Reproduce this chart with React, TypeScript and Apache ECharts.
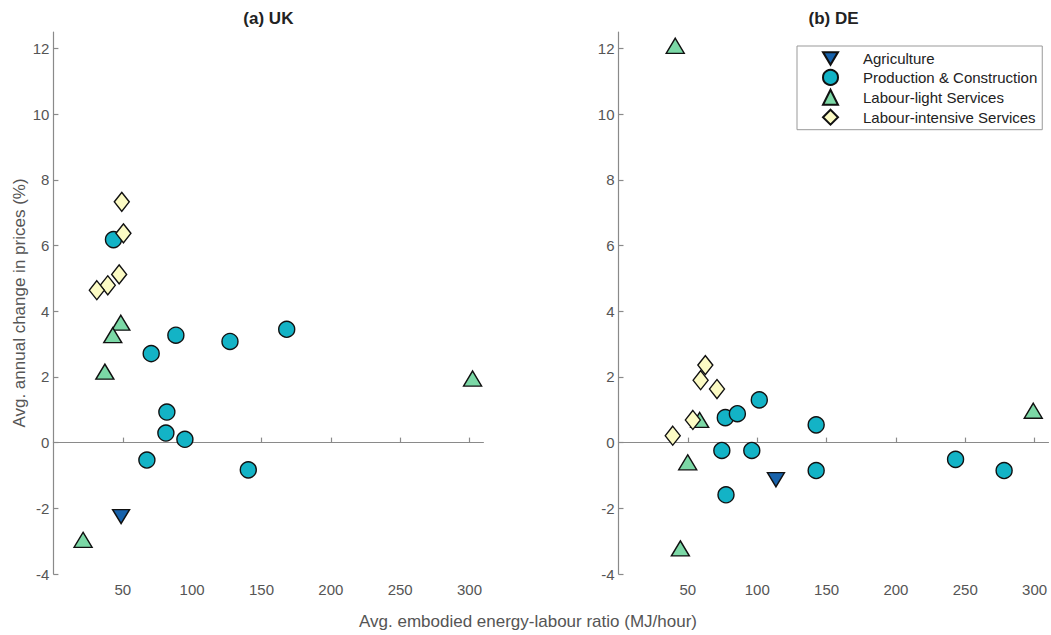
import React, { useEffect, useRef } from "react";
import * as echarts from "echarts";

// ---- Data: [embodied energy-labour ratio (MJ/hour), avg. annual change in prices (%)] ----
const seriesNames = [
  "Agriculture",
  "Production & Construction",
  "Labour-light Services",
  "Labour-intensive Services",
];

const ukAgriculture = [[48.8, -2.25]];
const ukProduction = [
  [43.3, 6.18], [70.5, 2.71], [88.3, 3.27], [127.3, 3.08], [168.2, 3.45],
  [81.8, 0.93], [81.1, 0.29], [94.8, 0.1], [67.4, -0.53], [140.5, -0.83],
];
const ukLabourLight = [[48.6, 3.65], [42.8, 3.27], [37.1, 2.16], [302.2, 1.95], [21.4, -2.96]];
const ukLabourIntensive = [[49.3, 7.33], [50.5, 6.37], [47.4, 5.12], [39.2, 4.79], [31.3, 4.64]];

const deAgriculture = [[113.5, -1.13]];
const deProduction = [
  [77.0, 0.76], [85.7, 0.88], [101.5, 1.3], [142.5, 0.54], [74.5, -0.24],
  [96.1, -0.24], [77.5, -1.59], [142.5, -0.85], [243.0, -0.51], [278.0, -0.85],
];
const deLabourLight = [[40.9, 12.08], [58.5, 0.69], [49.9, -0.6], [44.6, -3.22], [299.0, 0.97]];
const deLabourIntensive = [[62.6, 2.36], [59.2, 1.9], [71.0, 1.63], [53.6, 0.69], [39.1, 0.21]];

const xTicks = [50, 100, 150, 200, 250, 300];
const yTicks = [-4, -2, 0, 2, 4, 6, 8, 10, 12];
const panelTitles = ["(a) UK", "(b) DE"];

const FONT = "'Liberation Sans', Arial, Helvetica, sans-serif";
const AXIS_COLOR = "#8a8a8a";
const LABEL_COLOR = "#555555";

const colors = ["#1762ab", "#13b3c6", "#7bd8a6", "#fcfbc4"];
const symbols = ["path://M0,0L20,0L10,17Z", "circle", "triangle", "diamond"];
const symbolSizes: any[] = [[17, 14], 16, [18, 15], [15, 19]];

export default function App() {
  const ref = useRef<HTMLDivElement>(null);

  useEffect(() => {
    if (!ref.current) return;
    const chart = echarts.init(ref.current, undefined, { renderer: "svg" });

    const panels = [
      [ukAgriculture, ukProduction, ukLabourLight, ukLabourIntensive],
      [deAgriculture, deProduction, deLabourLight, deLabourIntensive],
    ];
    const gridLefts = [53.4, 618.5];

    const series: any[] = [];
    panels.forEach((panel, p) => {
      panel.forEach((data, k) => {
        series.push({
          type: "scatter",
          name: seriesNames[k],
          xAxisIndex: p,
          yAxisIndex: p,
          data,
          symbol: symbols[k],
          symbolSize: symbolSizes[k],
          itemStyle: { color: colors[k], borderColor: "#111", borderWidth: 1.4, opacity: 1 },
          emphasis: { disabled: true },
          z: 2 + k,
        });
      });
    });

    const xAxes = gridLefts.map((_, p) => ({
      type: "value",
      gridIndex: p,
      min: 0,
      max: 310,
      axisLine: { show: true, onZero: true, lineStyle: { color: AXIS_COLOR, width: 1.2 } },
      axisTick: {
        show: true,
        inside: true,
        length: 5,
        customValues: xTicks,
        lineStyle: { color: AXIS_COLOR, width: 1.2 },
      },
      axisLabel: {
        customValues: xTicks,
        fontSize: 15,
        color: LABEL_COLOR,
        fontFamily: FONT,
        margin: 8,
      },
      splitLine: { show: false },
    }));

    const yAxes = gridLefts.map((_, p) => ({
      type: "value",
      gridIndex: p,
      min: -4,
      max: 12.5,
      name: p === 0 ? "Avg. annual change in prices (%)" : "",
      nameLocation: "middle",
      nameGap: 25,
      nameTextStyle: { fontSize: 17, color: LABEL_COLOR, fontFamily: FONT },
      axisLine: { show: true, onZero: false, lineStyle: { color: AXIS_COLOR, width: 1.2 } },
      axisTick: {
        show: true,
        inside: true,
        length: 5,
        customValues: yTicks,
        lineStyle: { color: AXIS_COLOR, width: 1.2 },
      },
      axisLabel: {
        customValues: yTicks,
        fontSize: 15,
        color: LABEL_COLOR,
        fontFamily: FONT,
        margin: 4,
      },
      splitLine: { show: false },
    }));

    chart.setOption({
      animation: false,
      backgroundColor: "#ffffff",
      textStyle: { fontFamily: FONT },
      title: panelTitles.map((t, p) => ({
        text: t,
        left: gridLefts[p] + 215,
        top: 10,
        padding: 0,
        textAlign: "center",
        textStyle: { fontSize: 17, fontWeight: "bold", color: "#222", fontFamily: FONT },
      })),
      grid: gridLefts.map((l) => ({ left: l, top: 32, width: 430, height: 542 })),
      xAxis: xAxes,
      yAxis: yAxes,
      legend: {
        show: true,
        orient: "vertical",
        left: 797,
        top: 46,
        padding: [5, 5, 4, 25],
        itemWidth: 15,
        itemHeight: 15,
        itemGap: 2.9,
        symbolKeepAspect: true,
        selectedMode: false,
        borderColor: "#999",
        borderWidth: 1,
        backgroundColor: "#fff",
        textStyle: { fontSize: 15, color: "#222", fontFamily: FONT, padding: [0, 0, 0, 20] },
        data: seriesNames,
      },
      graphic: [
        {
          type: "text",
          x: 528,
          y: 621,
          style: {
            text: "Avg. embodied energy-labour ratio (MJ/hour)",
            fill: LABEL_COLOR,
            font: `17px ${FONT}`,
            textAlign: "center",
            textVerticalAlign: "middle",
          },
        },
      ],
      series,
    });

    return () => chart.dispose();
  }, []);

  return (
    <div
      ref={ref}
      style={{ position: "fixed", left: 0, top: 0, width: 1051, height: 635, background: "#fff" }}
    />
  );
}
